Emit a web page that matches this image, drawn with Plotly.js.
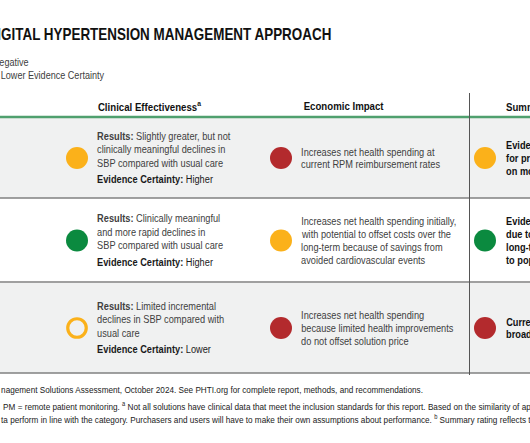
<!DOCTYPE html>
<html>
<head>
<meta charset="utf-8">
<script src="https://cdn.plot.ly/plotly-3.0.1.min.js"></script>
<style>html,body{margin:0;padding:0;background:#fff;}#chart{width:530px;height:443px;}</style>
</head>
<body>
<div id="chart"></div>
<script>
// ---------- DATA ----------
const titleText = "DIGITAL HYPERTENSION MANAGEMENT APPROACH";
const legendLines = ["Negative", "Lower Evidence Certainty"];
const columns = ["Clinical Effectiveness<sup>a</sup>", "Economic Impact", "Summary Rating<sup>b</sup>"];
const rows = ["Row 1", "Row 2", "Row 3"];
// rating: 'pos' (green), 'neu' (yellow), 'neg' (red)
const clinicalRating = ["neu", "pos", "neu"];
const clinicalLowerCertainty = [false, false, true];
const economicRating = ["neg", "neu", "neg"];
const summaryRating = ["neu", "pos", "neg"];
const clinicalResults = [
  ["<b>Results:</b> Slightly greater, but not", "clinically meaningful declines in", "SBP compared with usual care"],
  ["<b>Results:</b> Clinically meaningful", "and more rapid declines in", "SBP compared with usual care"],
  ["<b>Results:</b> Limited incremental", "declines in SBP compared with", "usual care"]
];
const clinicalCertainty = ["Higher", "Higher", "Lower"];
const economicText = [
  ["Increases net health spending at", "current RPM reimbursement rates"],
  ["Increases net health spending initially,", "with potential to offset costs over the", "long-term because of savings from", "avoided cardiovascular events"],
  ["Increases net health spending", "because limited health improvements", "do not offset solution price"]
];
const summaryText = [
  ["Evidence supports use", "for programs focused", "on monitoring"],
  ["Evidence supports adoption", "due to improvements and", "long-term savings", "to populations"],
  ["Current evidence does not support", "broad adoption"]
];
const footerLines = [
  "nagement Solutions Assessment, October 2024. See PHTI.org for complete report, methods, and recommendations.",
  "PM = remote patient monitoring. <sup>a</sup> Not all solutions have clinical data that meet the inclusion standards for this report. Based on the similarity of approaches,",
  "ta perform in line with the category. Purchasers and users will have to make their own assumptions about performance. <sup>b</sup> Summary rating reflects the"
];

// ---------- STYLE / LAYOUT ----------
const W = 530, H = 443;
const FONT = "Liberation Sans, Arial, sans-serif";
const SQUEEZE = 0.84;
const ratingColor = {pos: "#0b8a3f", neu: "#fbb11a", neg: "#b32a2d"};
const rowTop = [118, 199, 283], rowBot = [198, 282, 373];
const rowFill = ["#f0f1f1", "#ffffff", "#f0f1f1"];
const circleX = [77, 281, 485];
const textX = [96, 300, 505];
const headerX = [149, 343, 505];
const LINE = 13.3, LINE2 = 12.8;
const TXT = "#404040";

const shapes = [];
const annotations = [];
const ann = (x, y, text, opts) => annotations.push(Object.assign({
  x, y, xref: "x", yref: "y", text, showarrow: false, xanchor: "left", yanchor: "middle",
  borderpad: 0, font: {family: FONT, size: 11, color: TXT}
}, opts || {}));

rows.forEach((r, i) => {
  shapes.push({type: "rect", x0: 0, x1: W, y0: rowTop[i], y1: rowBot[i], fillcolor: rowFill[i], line: {width: 0}, layer: "below"});
  shapes.push({type: "line", x0: 0, x1: W, y0: rowBot[i], y1: rowBot[i], line: {color: "#808080", width: 1.6}});
});
shapes.push({type: "line", x0: 0, x1: W, y0: 117, y1: 117, line: {color: "#4fa06e", width: 2.5}});
shapes.push({type: "line", x0: 469.5, x1: 469.5, y0: 93, y1: 375, line: {color: "#555555", width: 1}});

// Title & legend
ann(333, 34.5, "<b>" + titleText + "</b>", {xanchor: "right", font: {family: FONT, size: 16, color: "#111"}});
ann(30, 61.5, legendLines[0], {xanchor: "right", font: {family: FONT, size: 10.8, color: TXT}});
ann(106, 75, legendLines[1], {xanchor: "right", font: {family: FONT, size: 10.8, color: TXT}});

// Headers
ann(headerX[0], 106, "<b>" + columns[0] + "</b>", {xanchor: "center", font: {family: FONT, size: 11.5, color: "#111"}});
ann(headerX[1], 106, "<b>" + columns[1] + "</b>", {xanchor: "center", font: {family: FONT, size: 11.5, color: "#111"}});
ann(headerX[2], 106, "<b>" + columns[2] + "</b>", {font: {family: FONT, size: 11.5, color: "#111"}});

// Cells text
rows.forEach((r, i) => {
  const mid = (rowTop[i] + rowBot[i]) / 2;
  const cl = clinicalResults[i];
  const blockH = (cl.length - 1) * LINE + 16.5;
  const y0 = mid - blockH / 2 - 0.5;
  cl.forEach((t, k) => ann(textX[0], y0 + k * LINE, t));
  ann(textX[0], y0 + (cl.length - 1) * LINE + 16.5, "<b>Evidence Certainty:</b> " + clinicalCertainty[i], {font: {family: FONT, size: 11, color: "#1a1a1a"}});
  const ec = economicText[i];
  const y1 = mid - (ec.length - 1) * LINE2 / 2;
  ec.forEach((t, k) => ann(textX[1], y1 + k * LINE2, t));
  const sm = summaryText[i];
  const y2 = mid - (sm.length - 1) * LINE2 / 2;
  sm.forEach((t, k) => ann(textX[2], y2 + k * LINE2, "<b>" + t + "</b>", {font: {family: FONT, size: 11, color: "#111"}}));
});

// Footer
ann(0, 389.5, footerLines[0], {font: {family: FONT, size: 9.75, color: "#222"}});
ann(2, 406, footerLines[1], {font: {family: FONT, size: 9.75, color: "#222"}});
ann(0, 419, footerLines[2], {font: {family: FONT, size: 9.75, color: "#222"}});

// Circles from data
const mids = rows.map((r, i) => (rowTop[i] + rowBot[i]) / 2);
const traces = [
  {x: rows.map(() => circleX[0]), y: mids, mode: "markers", type: "scatter", hoverinfo: "skip",
   marker: {opacity: 1, size: clinicalLowerCertainty.map(l => l ? 18.5 : 22), symbol: clinicalLowerCertainty.map(l => l ? "circle-open" : "circle"),
     color: clinicalRating.map(c => ratingColor[c]), line: {width: clinicalLowerCertainty.map(l => l ? 3.2 : 0), color: clinicalRating.map(c => ratingColor[c])}}},
  {x: rows.map(() => circleX[1]), y: mids, mode: "markers", type: "scatter", hoverinfo: "skip",
   marker: {opacity: 1, size: 22, color: economicRating.map(c => ratingColor[c]), line: {width: 0}}},
  {x: rows.map(() => circleX[2]), y: mids, mode: "markers", type: "scatter", hoverinfo: "skip",
   marker: {opacity: 1, size: 22, color: summaryRating.map(c => ratingColor[c]), line: {width: 0}}}
];

const layout = {
  width: W, height: H, margin: {l: 0, r: 0, t: 0, b: 0},
  paper_bgcolor: "#fff", plot_bgcolor: "#fff", showlegend: false,
  xaxis: {range: [0, W], visible: false, fixedrange: true},
  yaxis: {range: [H, 0], visible: false, fixedrange: true},
  shapes, annotations
};
Plotly.newPlot("chart", traces, layout, {displayModeBar: false, staticPlot: true}).then(gd => {
  // condense the typeface horizontally (the original uses a narrow gothic face)
  const full = gd._fullLayout.annotations;
  gd.querySelectorAll("g.annotation").forEach(g => {
    const a = full[+g.getAttribute("data-index")];
    const t = g.querySelector("text.annotation-text");
    if (!a || !t) return;
    const bb = t.getBBox();
    const ax = a.xanchor === "left" ? bb.x : a.xanchor === "right" ? bb.x + bb.width : bb.x + bb.width / 2;
    const prev = t.getAttribute("transform") || "";
    t.setAttribute("transform", (prev + ` translate(${ax},0) scale(${SQUEEZE},1) translate(${-ax},0)`).trim());
  });
});
</script>
</body>
</html>
